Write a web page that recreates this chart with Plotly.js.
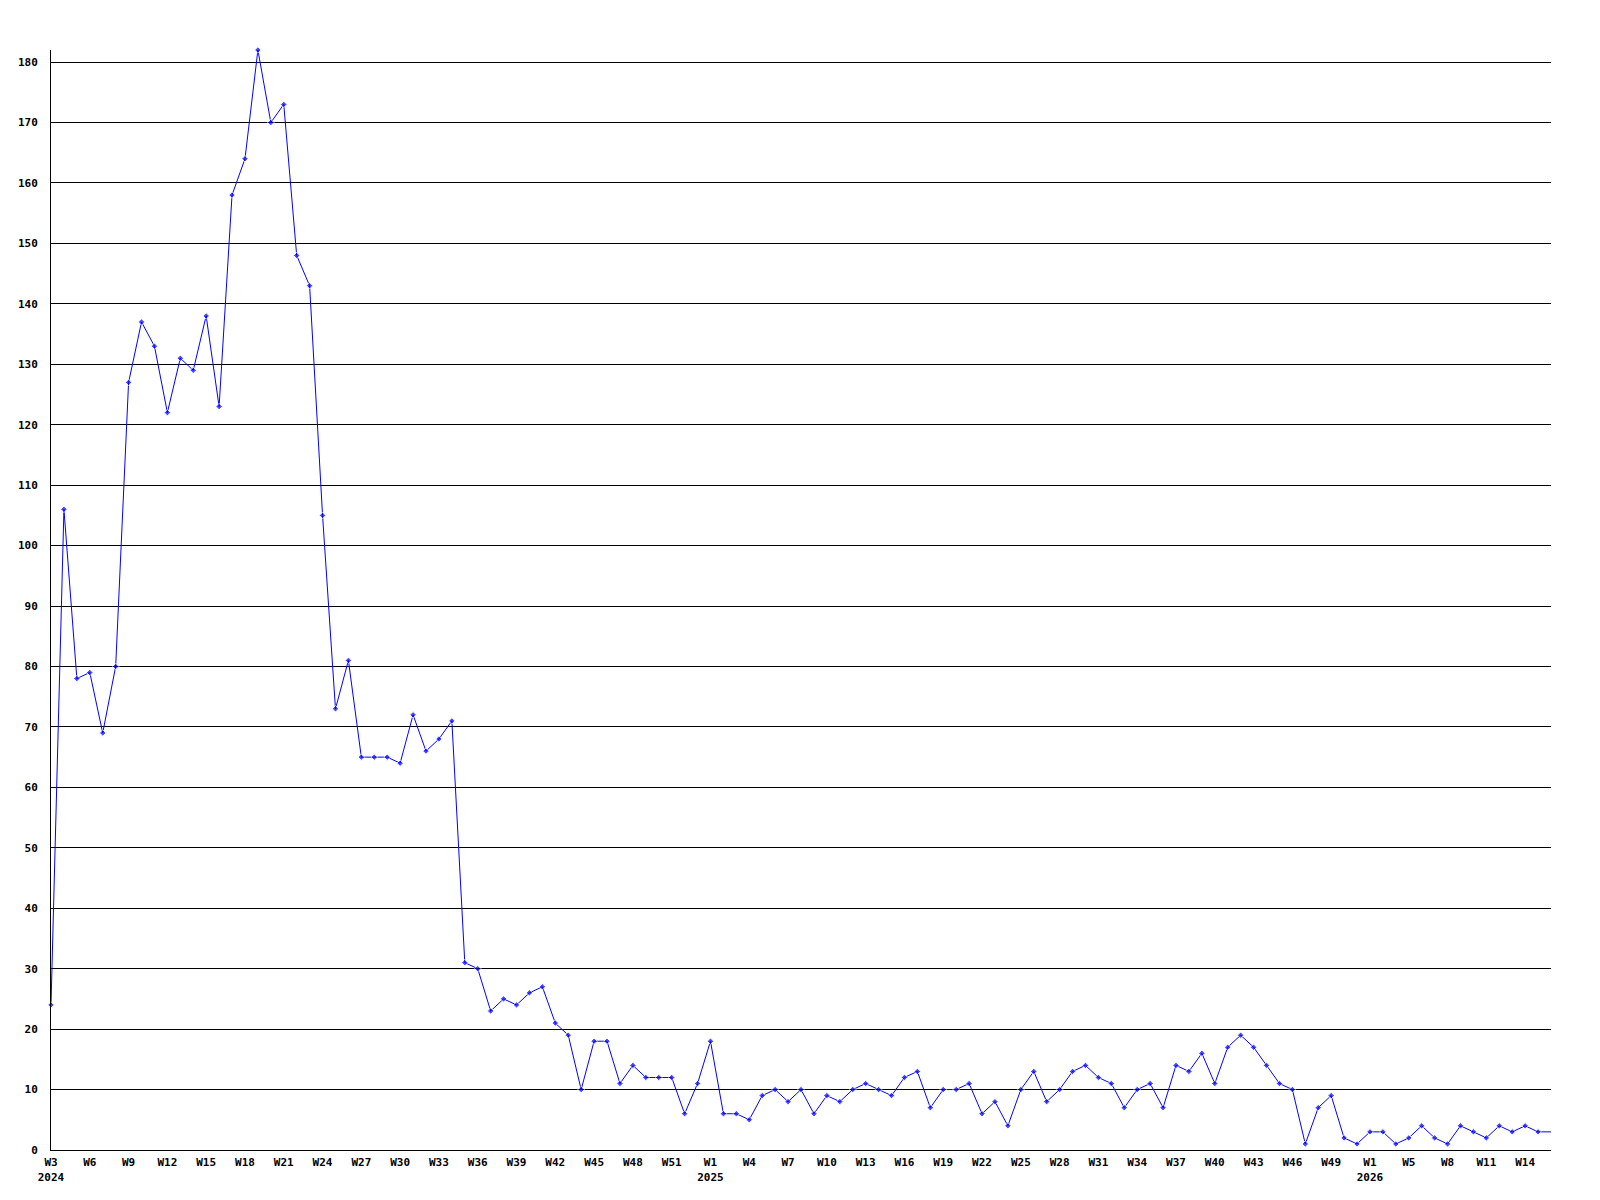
<!DOCTYPE html>
<html>
<head>
<meta charset="utf-8">
<script src="https://cdn.plot.ly/plotly-3.0.1.min.js"></script>
<style>
  html, body { margin: 0; padding: 0; background: #ffffff; }
  #chart { width: 1600px; height: 1200px; }
</style>
</head>
<body>
<div id="chart"></div>
<script>
// Weekly values, from 2024 W3 onward (one value per week)
const values2024a = [24,106,78,79,69,80,127,137,133,122,131,129,138,123,158,164,182,170,173,148,143,105];
const values2024b = [73,81,65,65,65,64,72,66,68,71,31,30,23,25,24,26,27,21,19,10,18,18,11];
const values2025a = [14,12,12,12,6,11,18,6,6,5,9,10,8,10,6,9,8,10,11,10,9,12,13,7,10,10,11,6,8];
const values2025b = [4,10,13,8,10,13,14,12,11,7,10,11,7,14,13,16,11,17,19,17,14,11,10,1,7];
const values2026 = [9,2,1,3,3,1,2,4,2,1,4,3,2,4,3,4,3,3];

// Tick labels (one every third week)
const weekLabels2024 = ['W3','W6','W9','W12','W15','W18','W21','W24','W27','W30','W33','W36','W39','W42','W45','W48','W51'];
const weekLabels2025 = ['W1','W4','W7','W10','W13','W16','W19','W22','W25','W28','W31','W34','W37','W40','W43','W46','W49'];
const weekLabels2026 = ['W1','W5','W8','W11','W14'];
const years = ['2024','2025','2026'];
const tickStep = 3;

const values = [].concat(values2024a, values2024b, values2025a, values2025b, values2026);
const xs = values.map((v, i) => i);

const groups = [weekLabels2024, weekLabels2025, weekLabels2026];
const tickText = [];
groups.forEach((g, gi) => {
  g.forEach((w, k) => tickText.push(k === 0 ? w + '<br>' + years[gi] : w));
});
const tickVals = tickText.map((t, k) => k * tickStep);

const markerSizes = values.map((v, i) => (i === values.length - 1 ? 0 : 5));

const tickFont = { family: 'DejaVu Sans Mono, monospace', size: 11, color: '#000000', weight: 'bold' };

const trace = {
  x: xs,
  y: values,
  type: 'scatter',
  mode: 'lines+markers',
  line: { color: '#0000ff', width: 1 },
  marker: { color: '#0000ff', size: markerSizes, symbol: 'diamond' },
  cliponaxis: false,
  hoverinfo: 'x+y'
};

const layout = {
  width: 1600,
  height: 1200,
  paper_bgcolor: '#ffffff',
  plot_bgcolor: '#ffffff',
  showlegend: false,
  margin: { l: 51, r: 49, t: 50, b: 50, pad: 0 },
  xaxis: {
    range: [0, values.length - 1],
    tickmode: 'array',
    tickvals: tickVals,
    ticktext: tickText,
    tickangle: 0,
    showgrid: false,
    zeroline: false,
    showline: true,
    linecolor: '#000000',
    linewidth: 1,
    ticks: '',
    ticklabelstandoff: 2,
    tickfont: tickFont
  },
  yaxis: {
    range: [0, 182],
    tickmode: 'linear',
    tick0: 0,
    dtick: 10,
    showgrid: true,
    gridcolor: '#000000',
    gridwidth: 1,
    zeroline: false,
    showline: true,
    linecolor: '#000000',
    linewidth: 1,
    ticks: '',
    ticklabelstandoff: 10,
    tickfont: tickFont
  }
};

Plotly.newPlot('chart', [trace], layout, { displayModeBar: false, staticPlot: true });
</script>
</body>
</html>
